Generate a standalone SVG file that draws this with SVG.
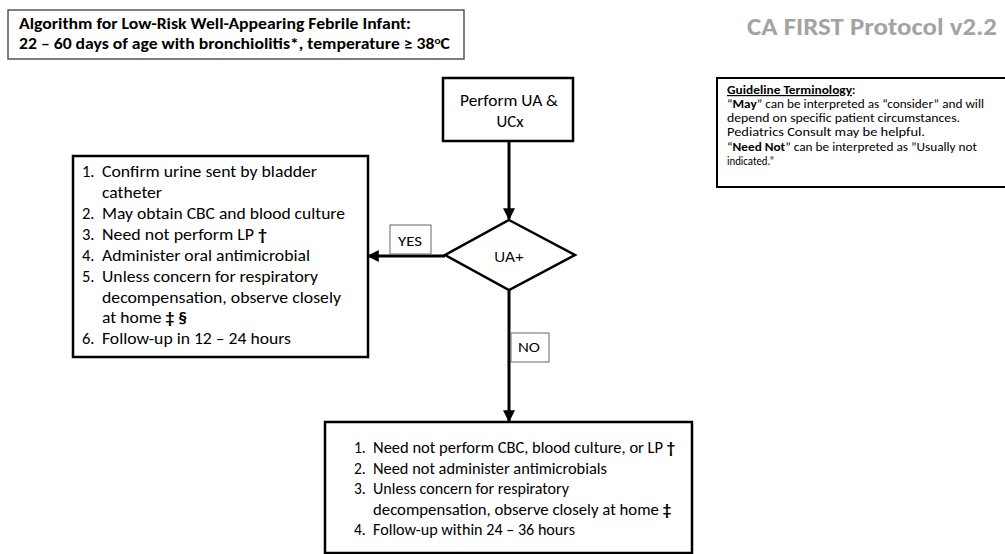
<svg xmlns="http://www.w3.org/2000/svg" width="1005" height="554" viewBox="0 0 1005 554">
<defs>
<style>
text{font-family:Carlito,Lato,"Liberation Sans",sans-serif;fill:#000}
.b{font-weight:bold}
.box{fill:#fff;stroke:#000;stroke-width:2.5}
.lbl{fill:#fff;stroke:#666;stroke-width:1}
.conn{stroke:#000;stroke-width:3;fill:none}
.t17{font-size:16.5px}
.t11{font-size:12px}
</style>
<marker id="ah" viewBox="0 0 10 10" refX="9" refY="5" markerWidth="4" markerHeight="4" orient="auto" markerUnits="strokeWidth">
<path d="M0,0 L10,5 L0,10 Z" fill="#000"/>
</marker>
</defs>
<rect width="1005" height="554" fill="#fff"/>

<g id="title">
<rect x="8" y="10" width="456" height="49" fill="#fff" stroke="#555" stroke-width="1.5"/>
<text class="b" x="19" y="29" font-size="15.5" textLength="392" lengthAdjust="spacingAndGlyphs">Algorithm for Low-Risk Well-Appearing Febrile Infant:</text>
<text class="b" x="19" y="49" font-size="15.5" textLength="431" lengthAdjust="spacingAndGlyphs">22 – 60 days of age with bronchiolitis*, temperature ≥ 38<tspan font-size="10" dy="-5">o</tspan><tspan dy="5">C</tspan></text>
</g>

<g id="protocol">
<text class="b" x="747" y="35" font-size="23.5" style="fill:#a3a3a3" textLength="250" lengthAdjust="spacingAndGlyphs">CA FIRST Protocol v2.2</text>
</g>

<g id="terminology">
<rect x="717" y="78" width="292" height="109" fill="#fff" stroke="#000" stroke-width="2"/>
<text class="t11 b" x="727" y="94" text-decoration="underline" textLength="125" lengthAdjust="spacingAndGlyphs">Guideline Terminology</text>
<text class="t11 b" x="852" y="94">:</text>
<text class="t11" x="727" y="108" textLength="257" lengthAdjust="spacingAndGlyphs">“<tspan class="b">May</tspan>” can be interpreted as “consider” and will</text>
<text class="t11" x="727" y="122" textLength="233" lengthAdjust="spacingAndGlyphs">depend on specific patient circumstances.</text>
<text class="t11" x="727" y="136" textLength="198" lengthAdjust="spacingAndGlyphs">Pediatrics Consult may be helpful.</text>
<text class="t11" x="727" y="151" textLength="250" lengthAdjust="spacingAndGlyphs">“<tspan class="b">Need Not</tspan>” can be interpreted as ”Usually not</text>
<text class="t11" x="727" y="165" textLength="47" lengthAdjust="spacingAndGlyphs">indicated.”</text>
</g>

<g id="connectors">
<line class="conn" x1="509" y1="141" x2="509" y2="219" marker-end="url(#ah)"/>
<line class="conn" x1="445" y1="256" x2="368" y2="256" marker-end="url(#ah)"/>
<line class="conn" x1="509" y1="290" x2="509" y2="421" marker-end="url(#ah)"/>
</g>

<g id="perform">
<rect class="box" x="443" y="78" width="130" height="63"/>
<text x="509" y="106" font-size="15.5" text-anchor="middle" textLength="98" lengthAdjust="spacingAndGlyphs">Perform UA &amp;</text>
<text x="510" y="127" font-size="15.5" text-anchor="middle" textLength="27" lengthAdjust="spacingAndGlyphs">UCx</text>
</g>

<g id="decision">
<polygon points="509,220 575,255 509,290 445,255" fill="#fff" stroke="#000" stroke-width="2.5" stroke-linejoin="miter"/>
<text x="509" y="262" text-anchor="middle" font-size="15" style="font-family:'Liberation Sans',Arial,sans-serif">UA+</text>
</g>

<g id="yes-label">
<rect class="lbl" x="390" y="225" width="41" height="29"/>
<text x="410" y="246" text-anchor="middle" font-size="14.5" textLength="24" lengthAdjust="spacingAndGlyphs">YES</text>
</g>

<g id="no-label">
<rect class="lbl" x="511" y="333" width="38" height="29"/>
<text x="529" y="352" text-anchor="middle" font-size="14.5" textLength="22" lengthAdjust="spacingAndGlyphs">NO</text>
</g>

<g id="yes-box">
<rect class="box" x="73" y="156" width="295" height="201"/>
<g class="t17">
<text x="82" y="177">1.</text><text x="102" y="177" textLength="215" lengthAdjust="spacingAndGlyphs">Confirm urine sent by bladder</text>
<text x="102" y="198" textLength="60" lengthAdjust="spacingAndGlyphs">catheter</text>
<text x="82" y="219">2.</text><text x="102" y="219" textLength="243" lengthAdjust="spacingAndGlyphs">May obtain CBC and blood culture</text>
<text x="82" y="240">3.</text><text x="102" y="240" textLength="165" lengthAdjust="spacingAndGlyphs">Need not perform LP <tspan class="b">†</tspan></text>
<text x="82" y="261">4.</text><text x="102" y="261" textLength="208" lengthAdjust="spacingAndGlyphs">Administer oral antimicrobial</text>
<text x="82" y="282">5.</text><text x="102" y="282" textLength="216" lengthAdjust="spacingAndGlyphs">Unless concern for respiratory</text>
<text x="102" y="303" textLength="239" lengthAdjust="spacingAndGlyphs">decompensation, observe closely</text>
<text x="102" y="323" textLength="85" lengthAdjust="spacingAndGlyphs">at home <tspan class="b">‡ §</tspan></text>
<text x="82" y="344">6.</text><text x="102" y="344" textLength="189" lengthAdjust="spacingAndGlyphs">Follow-up in 12 – 24 hours</text>
</g>
</g>

<g id="no-box">
<rect class="box" x="325" y="422" width="367" height="131"/>
<g font-size="15.5">
<text x="354" y="453">1.</text><text x="373" y="453" textLength="302" lengthAdjust="spacingAndGlyphs">Need not perform CBC, blood culture, or LP <tspan class="b">†</tspan></text>
<text x="354" y="473.5">2.</text><text x="373" y="473.5" textLength="234" lengthAdjust="spacingAndGlyphs">Need not administer antimicrobials</text>
<text x="354" y="494">3.</text><text x="373" y="494" textLength="196" lengthAdjust="spacingAndGlyphs">Unless concern for respiratory</text>
<text x="373" y="514.5" textLength="298" lengthAdjust="spacingAndGlyphs">decompensation, observe closely at home <tspan class="b">‡</tspan></text>
<text x="354" y="535">4.</text><text x="373" y="535" textLength="202" lengthAdjust="spacingAndGlyphs">Follow-up within 24 – 36 hours</text>
</g>
</g>
</svg>
